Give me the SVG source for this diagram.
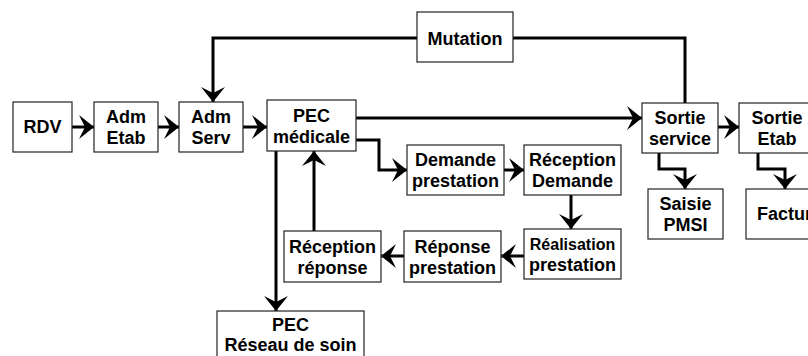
<svg xmlns="http://www.w3.org/2000/svg" width="808" height="356" viewBox="0 0 808 356">
<style>
.box{fill:#fff;stroke:#222;stroke-width:1.2}
.t{font-family:"Liberation Sans",Arial,sans-serif;font-weight:bold;font-size:18px;fill:#000;text-anchor:middle}
.s{font-size:16px}
.c{fill:none;stroke:#000;stroke-width:3}
.a{marker-end:url(#arr)}
</style>
<defs>
<marker id="arr" markerUnits="userSpaceOnUse" markerWidth="18" markerHeight="26" refX="15" refY="12" orient="auto" overflow="visible">
<path d="M0,0 L15,12 L0,24 L6,12 Z" fill="#000"/>
</marker>
</defs>
<rect width="808" height="356" fill="#fff"/>
<g id="connectors">
<path class="c a" d="M72,127 H94"/>
<path class="c a" d="M158,127 H179"/>
<path class="c a" d="M243,127 H267"/>
<path class="c a" d="M356,118 H642"/>
<path class="c" d="M685,103 V38 H513"/>
<path class="c a" d="M417,38 H213 V102"/>
<path class="c a" d="M718,127 H739"/>
<path class="c a" d="M356,140 H379 V170 H407"/>
<path class="c a" d="M504,170 H524"/>
<path class="c a" d="M571,195 V229"/>
<path class="c a" d="M524,256 H501"/>
<path class="c a" d="M404,256 H381"/>
<path class="c a" d="M314,231 V151"/>
<path class="c a" d="M276,151 V311"/>
<path class="c a" d="M659,153 V169 H685 V189"/>
<path class="c a" d="M758,153 V169 H785 V189"/>
</g>
<g id="rdv"><rect class="box" x="13" y="102" width="59" height="50"/><text class="t" x="42.5" y="133">RDV</text></g>
<g id="adm-etab"><rect class="box" x="94" y="102" width="64" height="50"/><text class="t" x="126" y="123">Adm</text><text class="t" x="126" y="144">Etab</text></g>
<g id="adm-serv"><rect class="box" x="179" y="102" width="64" height="50"/><text class="t" x="211" y="123">Adm</text><text class="t" x="211" y="144">Serv</text></g>
<g id="pec-medicale"><rect class="box" x="267" y="100" width="89" height="51"/><text class="t" x="311.5" y="121.5">PEC</text><text class="t" x="311.5" y="142.5">médicale</text></g>
<g id="mutation"><rect class="box" x="417" y="12" width="96" height="50"/><text class="t" x="465" y="45">Mutation</text></g>
<g id="sortie-service"><rect class="box" x="642" y="103" width="76" height="50"/><text class="t" x="680" y="124">Sortie</text><text class="t" x="680" y="145">service</text></g>
<g id="sortie-etab"><rect class="box" x="739" y="103" width="76" height="50"/><text class="t" x="777" y="124">Sortie</text><text class="t" x="777" y="145">Etab</text></g>
<g id="demande-prestation"><rect class="box" x="407" y="145" width="97" height="50"/><text class="t" x="455.5" y="166">Demande</text><text class="t" x="455.5" y="187">prestation</text></g>
<g id="reception-demande"><rect class="box" x="524" y="145" width="97" height="50"/><text class="t" x="572.5" y="166">Réception</text><text class="t" x="572.5" y="187">Demande</text></g>
<g id="realisation-prestation"><rect class="box" x="524" y="229" width="97" height="50"/><text class="t s" x="572.5" y="250">Réalisation</text><text class="t" x="572.5" y="271">prestation</text></g>
<g id="reponse-prestation"><rect class="box" x="404" y="231" width="97" height="51"/><text class="t" x="452.5" y="252.5">Réponse</text><text class="t" x="452.5" y="273.5">prestation</text></g>
<g id="reception-reponse"><rect class="box" x="284" y="231" width="97" height="51"/><text class="t" x="332.5" y="252.5">Réception</text><text class="t" x="332.5" y="273.5">réponse</text></g>
<g id="pec-reseau"><rect class="box" x="217" y="311" width="147" height="60"/><text class="t" x="290.5" y="331">PEC</text><text class="t" x="290.5" y="351">Réseau de soin</text></g>
<g id="saisie-pmsi"><rect class="box" x="648" y="189" width="75" height="50"/><text class="t" x="685.5" y="210">Saisie</text><text class="t" x="685.5" y="231">PMSI</text></g>
<g id="facturation"><rect class="box" x="746" y="189" width="120" height="50"/><text class="t" x="806" y="220">Facturation</text></g>
</svg>
